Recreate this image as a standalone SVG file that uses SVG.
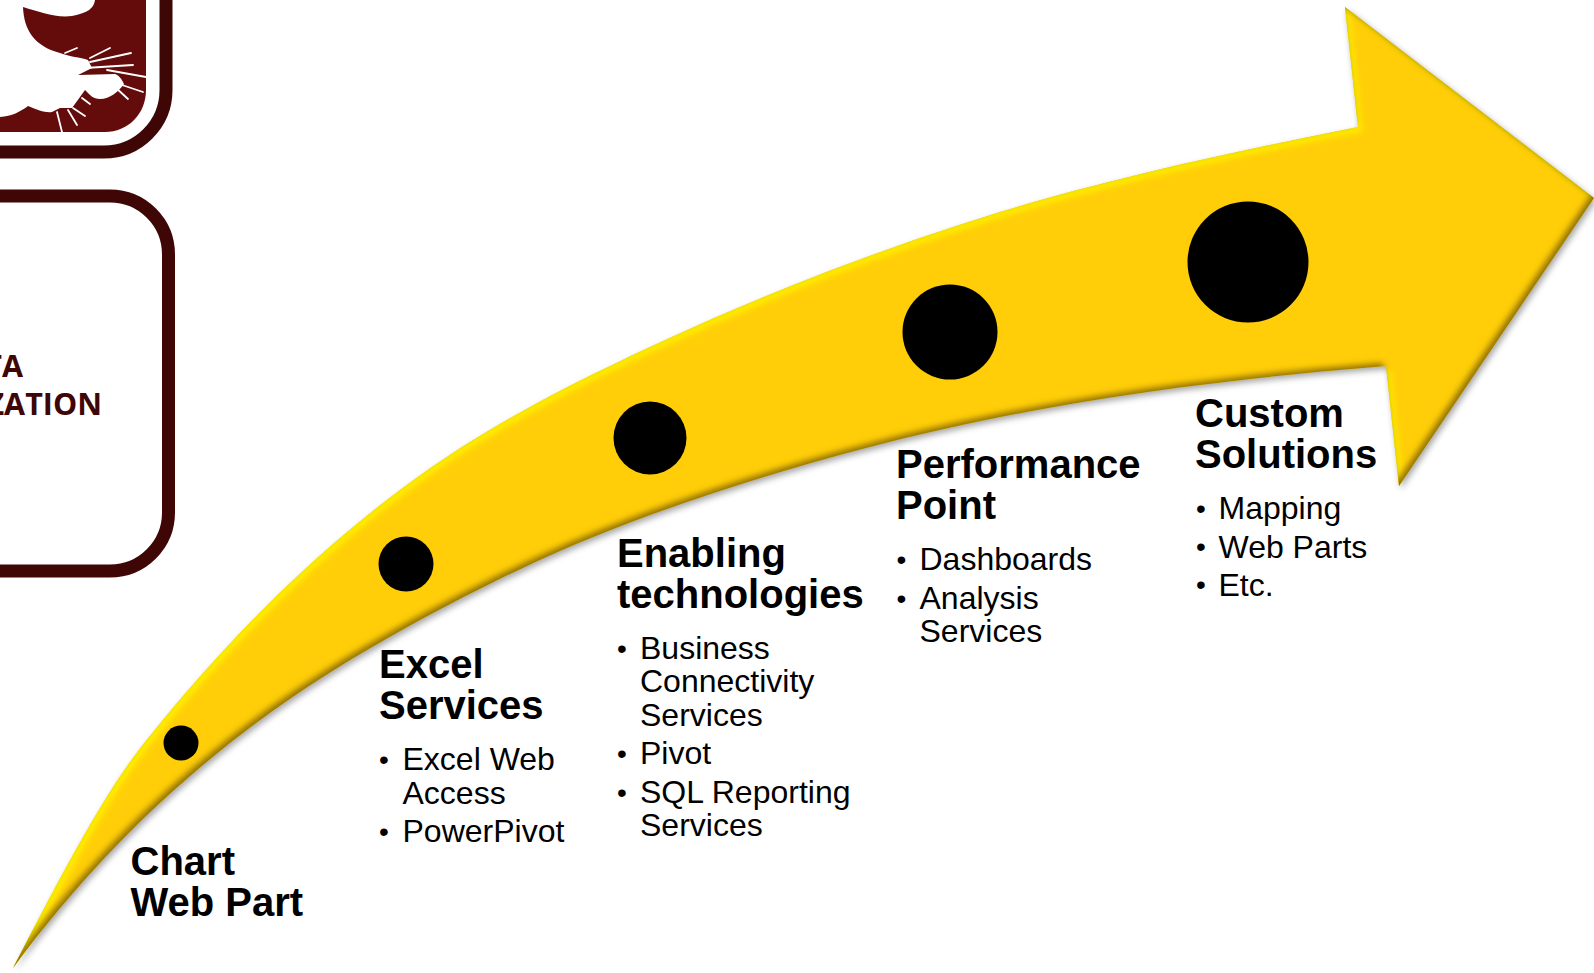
<svg xmlns="http://www.w3.org/2000/svg" width="1594" height="973" viewBox="0 0 1594 973">
<style>
text{font-family:"Liberation Sans",Arial,sans-serif;fill:#000}
.h{font-size:40px;font-weight:700}
.b{font-size:32px}
.d{font-size:28px}
.box{fill:none;stroke:#3f0606;stroke-width:13}
.w{fill:none;stroke:#fff;stroke-width:1.8;stroke-linecap:round}
.lbl{font-family:"Open Sans","Noto Sans",sans-serif;font-size:30.500px;font-weight:700;fill:#3f0606;text-anchor:end}
</style>
<defs>
<path id="arrowShape" d="M13 968C57 884.400 101 797 145 742C230 635.750 315 553.750 400 490C483.300 427.500 566.700 386 650 347C766.700 292.200 883.300 248.200 1000 212C1119.300 176.200 1238.700 150.900 1358 127L1345 7L1594 198L1399 486L1386 366C1257.300 376.300 1128.700 391.300 1000 417C883.300 440.300 766.700 473 650 515C555.700 549 461.300 595.300 367 650C310.300 682.900 253.700 721.800 197 770C135.700 822.100 74.300 885.200 13 968Z"/>
<filter id="bevel" x="-5%" y="-5%" width="110%" height="110%" color-interpolation-filters="sRGB">
<feGaussianBlur in="SourceAlpha" stdDeviation="3" result="sh0"/>
<feOffset in="sh0" dx="2" dy="3" result="sh1"/>
<feFlood flood-color="#000" flood-opacity=".35"/>
<feComposite in2="sh1" operator="in" result="shadow"/>
<feGaussianBlur in="SourceAlpha" stdDeviation="3" result="b"/>
<feOffset in="b" dx="-3.500" dy="-3.500" result="ob"/>
<feComposite in="SourceAlpha" in2="ob" operator="out" result="darkMask"/>
<feFlood flood-color="#8a6a00" flood-opacity=".95"/>
<feComposite in2="darkMask" operator="in" result="dark"/>
<feOffset in="b" dx="3.500" dy="3.500" result="ob2"/>
<feComposite in="SourceAlpha" in2="ob2" operator="out" result="lightMask"/>
<feFlood flood-color="#fff000" flood-opacity="1"/>
<feComposite in2="lightMask" operator="in" result="light"/>
<feMerge>
<feMergeNode in="shadow"/>
<feMergeNode in="SourceGraphic"/>
<feMergeNode in="light"/>
<feMergeNode in="dark"/>
</feMerge>
</filter>
</defs>
<rect width="1594" height="973" fill="#fff"/>
<g id="logo">
<path class="box" d="M-20 152H104A62 62 0 0 0 166 90V-10"/>
<path fill="#640b0b" d="M95 0C94 8 88 13 72 16C55 18 40 12 23 7C24 30 34 46 60 53C70 57 80 57 88 60L92 68L78 75L115 74C120 76 122 80 124 84C118 92 110 99 100 99C93 99 90 95 85 90L80 97L72 108L60 108L52 112C45 113 38 110 28 106C20 112 12 116 0 117V132H105C128 132 146 114 146 90V0Z"/>
<path class="w" d="M65 53L77 48M90 58L110 48M90 62L131 53M85 68L133 65M107 70L146 77M115 87L128 99M122 85L143 92M82 98L90 104M73 108L85 116M68 110L77 125M57 112L62 132"/>
</g>
<g id="box">
<path class="box" d="M-20 196H110A58.500 58.500 0 0 1 168.500 254.500V512.500A58.500 58.500 0 0 1 110 571H-20"/>
<text class="lbl" x="23" y="377">TA</text>
<text class="lbl" x="102" y="415">ZATION</text>
</g>
<g id="arrow"><use href="#arrowShape" fill="#ffce08" filter="url(#bevel)"/></g>
<g id="stage1">
<circle cx="181" cy="743" r="17.500"/>
<text class="h" x="130.500" y="875">Chart</text><text class="h" x="130.500" y="916">Web Part</text>
</g>
<g id="stage2">
<circle cx="406" cy="564" r="27.500"/>
<text class="h" x="379" y="678">Excel</text><text class="h" x="379" y="719">Services</text>
<text class="d" x="379" y="769">•</text><text class="b" x="402.500" y="770">Excel Web</text><text class="b" x="402.500" y="804">Access</text>
<text class="d" x="379" y="841">•</text><text class="b" x="402.500" y="842">PowerPivot</text>
</g>
<g id="stage3">
<circle cx="650" cy="438" r="36.500"/>
<text class="h" x="617" y="567">Enabling</text><text class="h" x="617" y="608">technologies</text>
<text class="d" x="617" y="657.500">•</text><text class="b" x="640" y="659">Business</text><text class="b" x="640" y="692">Connectivity</text><text class="b" x="640" y="726">Services</text>
<text class="d" x="617" y="762.500">•</text><text class="b" x="640" y="764">Pivot</text>
<text class="d" x="617" y="801.500">•</text><text class="b" x="640" y="803">SQL Reporting</text><text class="b" x="640" y="836">Services</text>
</g>
<g id="stage4">
<circle cx="950" cy="332" r="47.500"/>
<text class="h" x="896" y="478">Performance</text><text class="h" x="896" y="519">Point</text>
<text class="d" x="896.500" y="568.500">•</text><text class="b" x="919.500" y="570">Dashboards</text>
<text class="d" x="896.500" y="607.500">•</text><text class="b" x="919.500" y="609">Analysis</text><text class="b" x="919.500" y="642">Services</text>
</g>
<g id="stage5">
<circle cx="1248" cy="262" r="60.500"/>
<text class="h" x="1195" y="427">Custom</text><text class="h" x="1195" y="468">Solutions</text>
<text class="d" x="1196" y="517.500">•</text><text class="b" x="1218.500" y="519">Mapping</text>
<text class="d" x="1196" y="556">•</text><text class="b" x="1218.500" y="558">Web Parts</text>
<text class="d" x="1196" y="594">•</text><text class="b" x="1218.500" y="596">Etc.</text>
</g>
</svg>
